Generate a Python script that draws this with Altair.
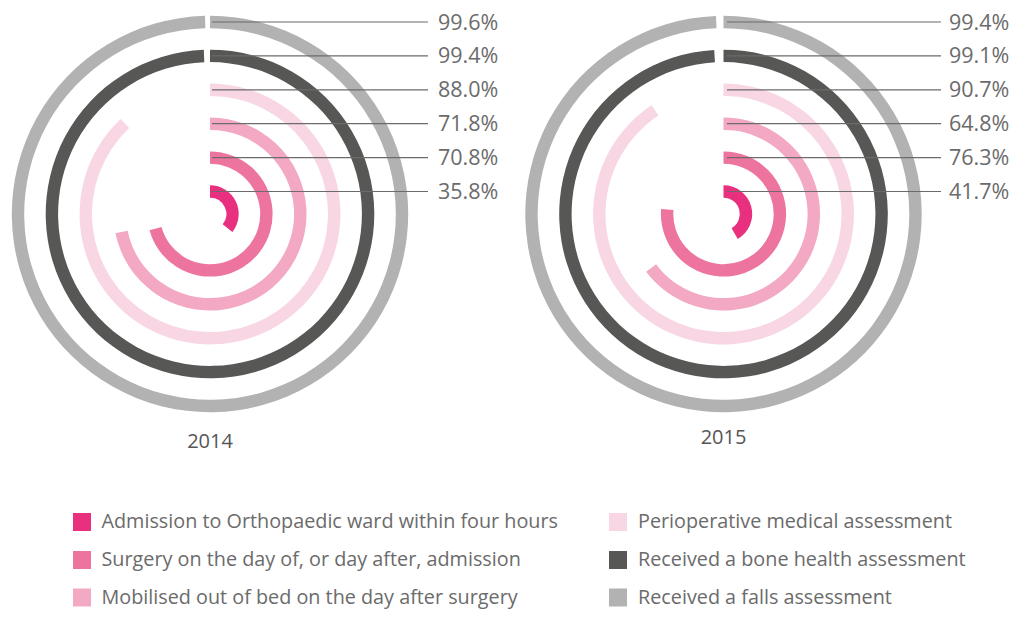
import altair as alt
import pandas as pd

# ---- data ----
measures = [
    "Admission to Orthopaedic ward within four hours",
    "Surgery on the day of, or day after, admission",
    "Mobilised out of bed on the day after surgery",
    "Perioperative medical assessment",
    "Received a bone health assessment",
    "Received a falls assessment",
]
years = ["2014", "2015"]
values_2014 = [35.8, 70.8, 71.8, 88.0, 99.4, 99.6]
values_2015 = [41.7, 76.3, 64.8, 90.7, 99.1, 99.4]
colors = ["#E8307F", "#EE74A0", "#F3A8C4", "#F8D6E3", "#575756", "#B2B2B2"]

# ---- layout (page pixel coordinates) ----
panel_cx = {"2014": 210.0, "2015": 723.5}
panel_cy = 214.0
line_start = {"2014": 212.0, "2015": 727.0}
line_end = {"2014": 428.0, "2015": 941.0}
label_x = {"2014": 438.0, "2015": 949.0}
year_y = {"2014": 442.0, "2015": 438.0}
ring_r0 = 22.5
ring_step = 33.9
band_half = 6.2
legend_sq_x = [82.0, 618.0]
legend_txt_x = [101.5, 638.0]
legend_row_y = [522.0, 560.0, 597.5]

rows = []
for yr, vals in zip(years, [values_2014, values_2015]):
    for i, (m, v) in enumerate(zip(measures, vals)):
        rc = ring_r0 + ring_step * i
        rows.append({
            "year": yr, "ring": i, "measure": m, "value": v, "start": 0.0,
            "cx": panel_cx[yr], "cy": panel_cy,
            "r_in": rc - band_half, "r_out": rc + band_half,
            "ly": panel_cy - rc, "lx0": line_start[yr], "lx1": line_end[yr],
            "tx": label_x[yr],
        })
df = pd.DataFrame(rows)

year_df = pd.DataFrame({"year": years,
                        "x": [panel_cx[y] for y in years],
                        "y": [year_y[y] for y in years]})

leg_rows = []
for i, m in enumerate(measures):
    col, row = i // 3, i % 3
    leg_rows.append({"measure": m, "sx": legend_sq_x[col], "tx": legend_txt_x[col],
                     "y": legend_row_y[row]})
leg_df = pd.DataFrame(leg_rows)

W, H = 1004, 602
xs = alt.Scale(domain=[8, 8 + W], range=[0, W])
ys = alt.Scale(domain=[8, 8 + H], range=[0, H])
color = alt.Color("measure:N", scale=alt.Scale(domain=measures, range=colors), legend=None)
FONT = "Open Sans"
GREY = "#6B6B6B"

arcs = alt.Chart(df).mark_arc(stroke=None).encode(
    x=alt.X("cx:Q", scale=xs, axis=None),
    y=alt.Y("cy:Q", scale=ys, axis=None),
    theta=alt.Theta("start:Q", scale=alt.Scale(domain=[0, 100], range=[0, 6.283185307179586])),
    theta2="value:Q",
    radius=alt.Radius("r_in:Q", scale=alt.Scale(type="linear", domain=[0, 300], range=[0, 300])),
    radius2="r_out:Q",
    color=color,
)

leaders = alt.Chart(df).mark_rule(color=GREY, strokeWidth=1.2).encode(
    x=alt.X("lx0:Q", scale=xs, axis=None),
    x2="lx1:Q",
    y=alt.Y("ly:Q", scale=ys, axis=None),
)

labels = alt.Chart(df).transform_calculate(
    lab="format(datum.value, '.1f') + '%'"
).mark_text(align="left", baseline="middle", dy=1.5, font=FONT, fontSize=21.5, color=GREY).encode(
    x=alt.X("tx:Q", scale=xs, axis=None),
    y=alt.Y("ly:Q", scale=ys, axis=None),
    text="lab:N",
)

year_text = alt.Chart(year_df).mark_text(align="center", baseline="middle", font=FONT,
                                         fontSize=20, color="#555555").encode(
    x=alt.X("x:Q", scale=xs, axis=None),
    y=alt.Y("y:Q", scale=ys, axis=None),
    text="year:N",
)

leg_sq = alt.Chart(leg_df).mark_square(size=324, opacity=1, filled=True).encode(
    x=alt.X("sx:Q", scale=xs, axis=None),
    y=alt.Y("y:Q", scale=ys, axis=None),
    color=color,
)

leg_txt = alt.Chart(leg_df).mark_text(align="left", baseline="middle", font=FONT,
                                      fontSize=19.8, color=GREY).encode(
    x=alt.X("tx:Q", scale=xs, axis=None),
    y=alt.Y("y:Q", scale=ys, axis=None),
    text="measure:N",
)

chart = alt.layer(arcs, leaders, labels, year_text, leg_sq, leg_txt).properties(
    width=W, height=H, padding=0, autosize=alt.AutoSizeParams(type="none")
).configure_view(stroke=None)

chart.save("out.html", embed_options={"renderer": "svg", "actions": False})
